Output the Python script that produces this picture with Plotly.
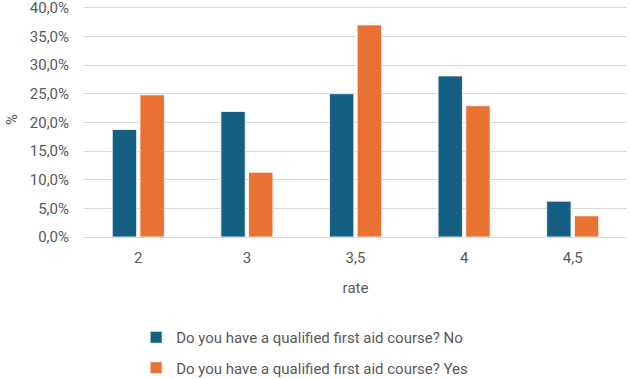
import plotly.graph_objects as go

categories = ["2", "3", "3,5", "4", "4,5"]
no_values = [0.1875, 0.219, 0.25, 0.281, 0.0625]
yes_values = [0.248, 0.113, 0.370, 0.229, 0.037]
series_names = ["Do you have a qualified first aid course? No",
                "Do you have a qualified first aid course? Yes"]
y_ticks = [0, 0.05, 0.10, 0.15, 0.20, 0.25, 0.30, 0.35, 0.40]

FONT = "Roboto"
GREY = "#595959"

fig = go.Figure()
fig.add_trace(go.Bar(x=categories, y=no_values, name=series_names[0],
                     marker=dict(color="#156082", line=dict(color="white", width=0.8)),
                     legendgroup="a"))
fig.add_trace(go.Bar(x=categories, y=yes_values, name=series_names[1],
                     marker=dict(color="#E97132", line=dict(color="white", width=0.8)),
                     legendgroup="b"))

fig.update_layout(
    width=630, height=379,
    margin=dict(l=84, r=3, t=2, b=142, autoexpand=False),
    paper_bgcolor="white", plot_bgcolor="white",
    separators=",.",
    barmode="group", bargap=0.49, bargroupgap=0.12,
    font=dict(family=FONT, size=15, color=GREY),
    showlegend=True,
    legend=dict(orientation="v", x=0.096, xanchor="left",
                yref="container", y=0.153, yanchor="top",
                font=dict(size=15, color=GREY), traceorder="grouped",
                tracegroupgap=8, itemwidth=30),
    xaxis=dict(type="category", showgrid=False, showline=False, ticks="",
               automargin=False, ticklabelstandoff=10,
               tickfont=dict(size=15, color=GREY),
               title=dict(text="rate", font=dict(size=15, color=GREY), standoff=16)),
    yaxis=dict(range=[0, 0.41], tickvals=y_ticks, tickformat=".1%",
               automargin=False, ticklabelstandoff=14, ticklabeloverflow="allow",
               gridcolor="#d9d9d9", gridwidth=1, zeroline=True, zerolinecolor="#d9d9d9",
               zerolinewidth=1, showline=False, ticks="",
               tickfont=dict(size=15, color=GREY),
               title=dict(text="%", font=dict(size=15, color=GREY), standoff=8)),
)

fig.write_html("out.html")
